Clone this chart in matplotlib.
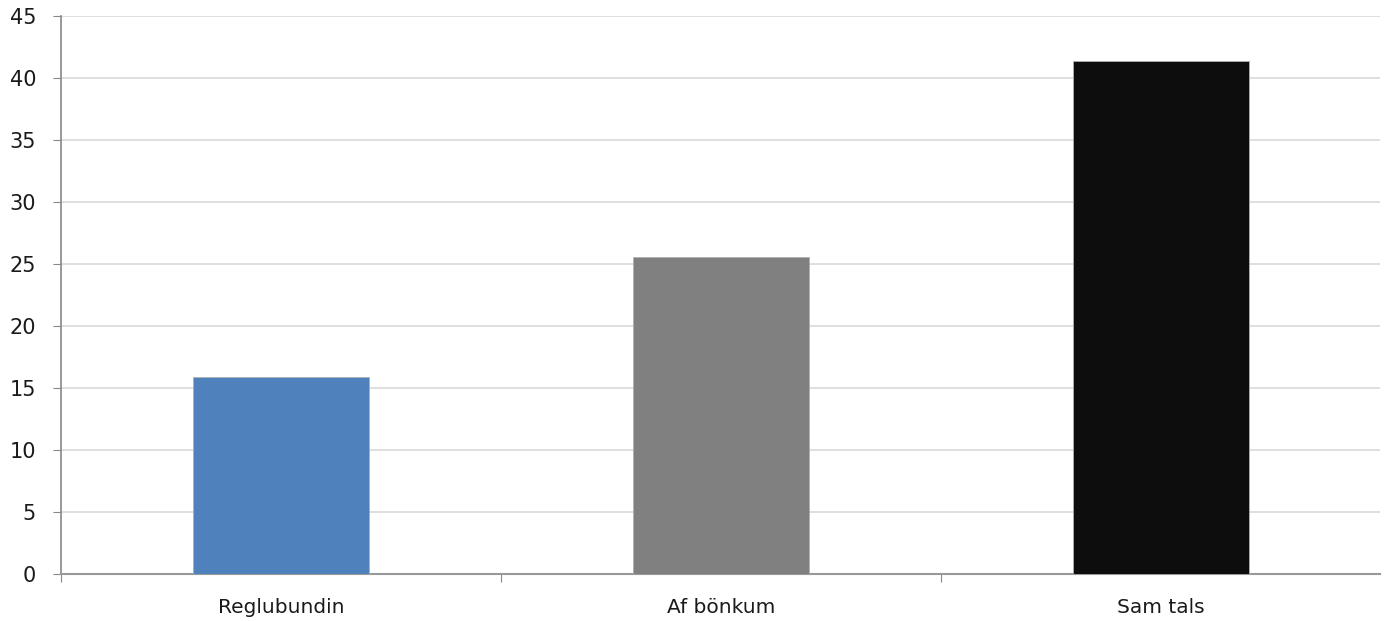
import matplotlib.pyplot as plt
import numpy as np

categories = ["Reglubundin", "Af bönkum", "Sam tals"]
values = [15.9, 25.55, 41.35]
colors = ["#4f81bd", "#808080", "#0d0d0d"]

fig = plt.figure(figsize=(13.87, 6.21), dpi=100)
ax = fig.add_axes([0.044, 0.0757, 0.9513, 0.8985])

x = np.arange(len(categories))
ax.bar(x, values, width=0.4, color=colors, edgecolor="#b0b0b0", linewidth=0.6, zorder=3)

ax.set_xlim(-0.5, 2.5)
ax.set_ylim(0, 45)
ax.set_yticks(np.arange(0, 46, 5))
ax.yaxis.grid(True, color="#d9d9d9", linewidth=1.2, zorder=0)

# category boundary ticks (no tick at the right end)
ax.set_xticks([-0.5, 0.5, 1.5])
ax.set_xticklabels([])
ax.set_xticks(x, minor=True)
ax.set_xticklabels(categories, minor=True, fontsize=14.5, color="#1a1a1a")
ax.tick_params(axis="x", which="minor", length=0, pad=17)
ax.tick_params(axis="x", which="major", length=6, color="#888888")
ax.tick_params(axis="y", length=6, color="#888888", labelsize=15, pad=12,
               labelcolor="#1a1a1a")

for s in ["top", "right"]:
    ax.spines[s].set_visible(False)
ax.spines["left"].set_color("#888888")
ax.spines["bottom"].set_color("#999999")
ax.spines["left"].set_linewidth(1.2)
ax.spines["bottom"].set_linewidth(1.5)

plt.savefig("out.png", dpi=100)
plt.close()
